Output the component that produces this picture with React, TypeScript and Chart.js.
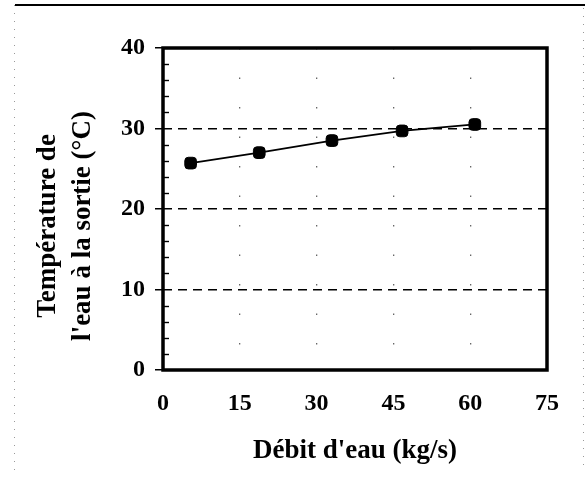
import React, { useEffect, useRef } from 'react';
import { Chart, registerables } from 'chart.js';

Chart.register(...registerables);

// ---- data ----
const flowRates = [5.4, 18.8, 33.0, 46.7, 60.9];
const outletTemps = [25.7, 27.0, 28.5, 29.7, 30.5];
const xTickValues = [0, 15, 30, 45, 60, 75];
const yTickValues = [0, 10, 20, 30, 40];
const yMinorValues = [2, 4, 6, 8, 12, 14, 16, 18, 22, 24, 26, 28, 32, 34, 36, 38];
const xTitle = "Débit d'eau (kg/s)";
const yTitleLines = ['Température de', "l'eau à la sortie (°C)"];

const FONT = '"Liberation Serif", "Times New Roman", serif';

const decorPlugin = {
  id: 'decor',
  beforeDraw(chart: any) {
    const ctx = chart.ctx;
    ctx.save();
    ctx.fillStyle = '#ffffff';
    ctx.fillRect(0, 0, chart.width, chart.height);
    ctx.restore();
  },
  afterDraw(chart: any) {
    const ctx = chart.ctx;
    const { left, right, top, bottom } = chart.chartArea;
    const yScale = chart.scales.y;
    ctx.save();
    // minor inside ticks on the y axis
    ctx.strokeStyle = '#000';
    ctx.lineWidth = 1.4;
    yMinorValues.forEach((v) => {
      const py = Math.round(yScale.getPixelForValue(v)) + 0.5;
      ctx.beginPath();
      ctx.moveTo(left, py);
      ctx.lineTo(left + 6, py);
      ctx.stroke();
    });
    // plot box
    ctx.lineWidth = 3.5;
    ctx.strokeStyle = '#000';
    ctx.strokeRect(left, top, right - left, bottom - top);
    // outer figure frame (scanned look)
    ctx.lineWidth = 2;
    ctx.beginPath();
    ctx.moveTo(15, 5);
    ctx.lineTo(585, 5);
    ctx.stroke();
    ctx.lineWidth = 1;
    ctx.strokeStyle = '#999';
    ctx.setLineDash([1, 7]);
    ctx.beginPath();
    ctx.moveTo(14.5, 5);
    ctx.lineTo(14.5, 470);
    ctx.moveTo(583.5, 8);
    ctx.lineTo(583.5, 470);
    ctx.stroke();
    ctx.setLineDash([]);
    // y axis title (two rotated lines)
    ctx.fillStyle = '#000';
    ctx.font = `bold 27px ${FONT}`;
    ctx.textAlign = 'center';
    ctx.textBaseline = 'alphabetic';
    const cy = 226;
    const baselines = [55, 90];
    yTitleLines.forEach((line, i) => {
      ctx.save();
      ctx.translate(baselines[i], cy);
      ctx.rotate(-Math.PI / 2);
      ctx.fillText(line, 0, 0);
      ctx.restore();
    });
    ctx.restore();
  },
};

export default function App() {
  const canvasRef = useRef<HTMLCanvasElement | null>(null);

  useEffect(() => {
    if (!canvasRef.current) return;
    const chart = new Chart(canvasRef.current, {
      type: 'scatter',
      data: {
        datasets: [
          {
            data: flowRates.map((x, i) => ({ x, y: outletTemps[i] })),
            showLine: true,
            borderColor: '#000',
            borderWidth: 1.8,
            backgroundColor: '#000',
            pointStyle: 'rectRounded',
            pointRadius: 6.8,
            pointBackgroundColor: '#000',
            pointBorderColor: '#000',
            pointBorderWidth: 1,
          },
        ],
      },
      options: {
        responsive: false,
        animation: false,
        devicePixelRatio: 1,
        layout: { padding: { left: 113, top: 48, right: 38, bottom: 0 } },
        plugins: {
          legend: { display: false },
          tooltip: { enabled: false },
        },
        scales: {
          x: {
            type: 'linear',
            min: 0,
            max: 75,
            afterBuildTicks: (s: any) => {
              s.ticks = xTickValues.map((v) => ({ value: v }));
            },
            afterFit: (s: any) => {
              s.height = 122;
            },
            ticks: {
              padding: 13,
              color: '#000',
              font: { family: FONT, size: 24, weight: 'bold' },
            },
            grid: {
              color: (c: any) =>
                c.tick && c.tick.value > 0 && c.tick.value < 75 ? '#666' : 'rgba(0,0,0,0)',
              lineWidth: 1.3,
              drawTicks: true,
              tickLength: 6,
              tickColor: 'rgba(0,0,0,0)',
              tickBorderDash: [],
            },
            border: { display: false, dash: [1.5, 28] },
            title: {
              display: true,
              text: xTitle,
              color: '#000',
              font: { family: FONT, size: 27, weight: 'bold' },
              padding: { top: 0, bottom: 25 },
            },
          },
          y: {
            type: 'linear',
            min: 0,
            max: 40,
            afterBuildTicks: (s: any) => {
              s.ticks = yTickValues.map((v) => ({ value: v }));
            },
            afterFit: (s: any) => {
              s.width = 50;
            },
            ticks: {
              padding: 10,
              color: '#000',
              font: { family: FONT, size: 24, weight: 'bold' },
            },
            grid: {
              color: (c: any) =>
                c.tick && c.tick.value > 0 && c.tick.value < 40 ? '#000' : 'rgba(0,0,0,0)',
              lineWidth: 1.5,
              drawTicks: true,
              tickLength: 8,
              tickWidth: 1.5,
              tickColor: '#000',
              tickBorderDash: [],
            },
            border: { display: false, dash: [9, 6] },
          },
        },
      },
      plugins: [decorPlugin],
    } as any);
    return () => chart.destroy();
  }, []);

  return (
    <div style={{ position: 'absolute', left: 0, top: 0, width: 585, height: 492, background: '#fff' }}>
      <canvas ref={canvasRef} width={585} height={492} style={{ display: 'block' }} />
    </div>
  );
}
